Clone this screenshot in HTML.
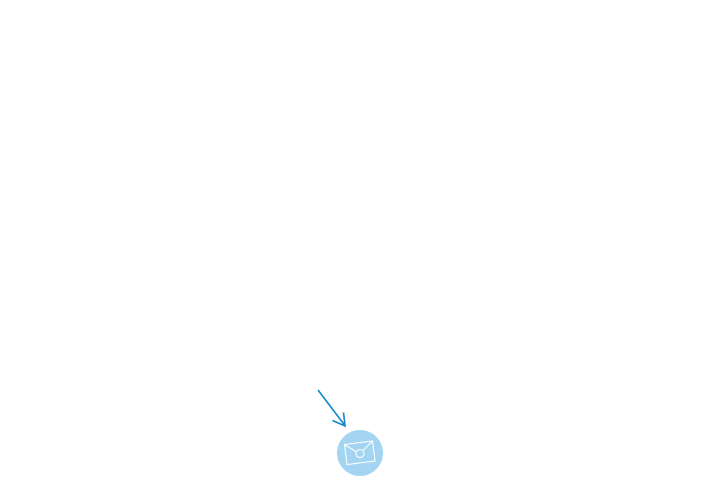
<!DOCTYPE html>
<html><head><style>html,body{margin:0;padding:0;background:#fff;width:714px;height:480px;overflow:hidden}</style></head>
<body>
<svg width="714" height="480" viewBox="0 0 714 480" xmlns="http://www.w3.org/2000/svg">
<line x1="318" y1="390" x2="344.5" y2="425" stroke="#1188cc" stroke-width="1.6"/>
<polyline points="332.5,420.5 345,426 343.5,412.5" fill="none" stroke="#1188cc" stroke-width="1.6"/>
<circle cx="360" cy="453" r="23" fill="#a3d4f2"/>
<g fill="none" stroke="#fff" stroke-width="1.1">
<polygon points="344.5,444.5 372.5,441 375,461 347,464.5"/>
<polyline points="344.5,444.5 356.5,452"/>
<polyline points="363.5,450 372.5,441"/>
<circle cx="360" cy="453.5" r="4"/>
</g>
</svg>
</body></html>
